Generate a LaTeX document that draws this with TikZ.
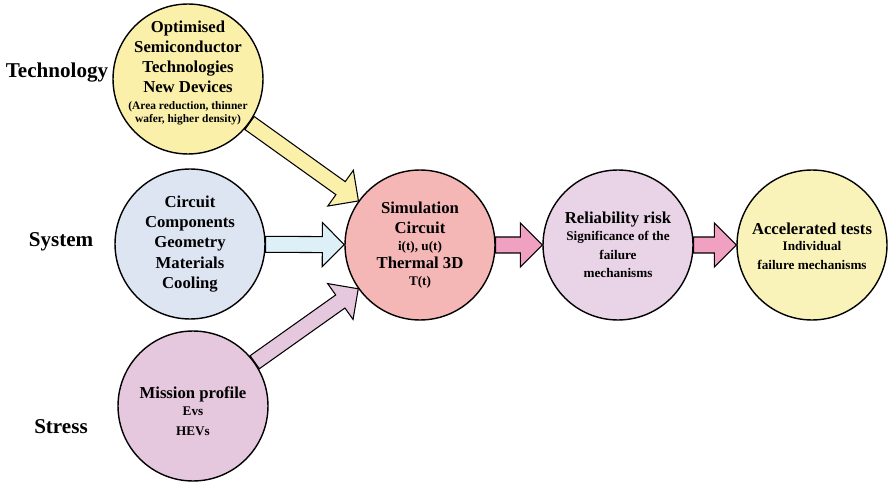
\documentclass[tikz,border=0pt]{standalone}
\usepackage{fontspec}
\setmainfont{Liberation Serif}
\usepackage{xcolor}
\usepackage{tikz}
\usetikzlibrary{calc}
\definecolor{techfill}{RGB}{251,240,170}
\definecolor{sysfill}{RGB}{221,228,242}
\definecolor{sysarrow}{RGB}{221,240,247}
\definecolor{missionfill}{RGB}{229,199,222}
\definecolor{simfill}{RGB}{245,182,182}
\definecolor{pinkarrow}{RGB}{240,160,192}
\definecolor{relfill}{RGB}{233,211,230}
\definecolor{accfill}{RGB}{250,243,185}
\newcommand{\bubhead}{\fontsize{9.5}{11.5}\selectfont}
\newcommand{\bubnote}{\fontsize{7.5}{8.5}\selectfont}
\newcommand{\bubtiny}{\fontsize{6.5}{7}\selectfont}
\tikzset{
  bubble/.style={circle, draw, line width=0.8pt, minimum size=3cm, inner sep=0pt, align=center, font=\bfseries\bubhead},
  bubtext/.style={align=center, inner sep=0pt, font=\bfseries\bubhead},
  sidelabel/.style={font=\bfseries\fontsize{12}{14}\selectfont},
  blockarrow/.style={draw, line width=0.6pt, line join=miter},
}
% fat outlined arrow from one bubble to another
\newcommand{\fatarrow}[3]{%
  \path (#1) -- (#2) coordinate[pos=0] (fa-s) coordinate[pos=1] (fa-e);
  \coordinate (fa-b) at ($(fa-e)!0.44cm!(fa-s)$);
  \draw[blockarrow, fill=#3] ($(fa-s)!0.16cm!90:(fa-e)$) -- ($(fa-b)!0.16cm!-90:(fa-s)$)
    -- ($(fa-b)!0.44cm!-90:(fa-s)$) -- (fa-e) -- ($(fa-b)!0.44cm!90:(fa-s)$)
    -- ($(fa-b)!0.16cm!90:(fa-s)$) -- ($(fa-s)!0.16cm!-90:(fa-e)$) -- cycle;
}

\begin{document}
\begin{tikzpicture}[x=0.02cm, y=-0.02cm]
  \useasboundingbox (0,0) rectangle (888,489);
  % side labels
  \node[sidelabel] (lbltech) at (57,73) {Technology};
  \node[sidelabel] (lblsys) at (61,242) {System};
  \node[sidelabel] (lblstress) at (61,427) {Stress};
  % bubbles
  \node[bubble, fill=techfill] (tech) at (188,79) {};
  \node[bubtext] (techtext) at (188,73) {Optimised\\Semiconductor\\Technologies\\New Devices\\[-2pt]\bubtiny (Area reduction, thinner\\[-4pt]\bubtiny wafer, higher density)};
  \node[bubble, fill=sysfill] (sys) at (190,244) {Circuit\\Components\\Geometry\\Materials\\Cooling};
  \node[bubble, fill=missionfill] (mission) at (193,406) {};
  \node[bubtext] (missiontext) at (193,411) {Mission profile\\[-2pt]\bubnote Evs\\[0pt]\bubnote HEVs};
  \node[bubble, fill=simfill] (sim) at (420,245) {Simulation\\Circuit\\[-2pt]\bubnote i(t), u(t)\\[-1pt]Thermal 3D\\[-2pt]\bubnote T(t)};
  \node[bubble, fill=relfill] (rel) at (618,245) {Reliability risk\\[-2pt]\bubnote Significance of the\\[-1pt]\bubnote failure\\[-1pt]\bubnote mechanisms};
  \node[bubble, fill=accfill] (acc) at (812,245) {};
  \node[bubtext] (acctext) at (812,246) {Accelerated tests\\[-2pt]\bubnote Individual\\[-1pt]\bubnote failure mechanisms};
  % arrows
  \fatarrow{tech}{sim}{techfill}
  \fatarrow{sys}{sim}{sysarrow}
  \fatarrow{mission}{sim}{missionfill}
  \fatarrow{sim}{rel}{pinkarrow}
  \fatarrow{rel}{acc}{pinkarrow}
\end{tikzpicture}
\end{document}
